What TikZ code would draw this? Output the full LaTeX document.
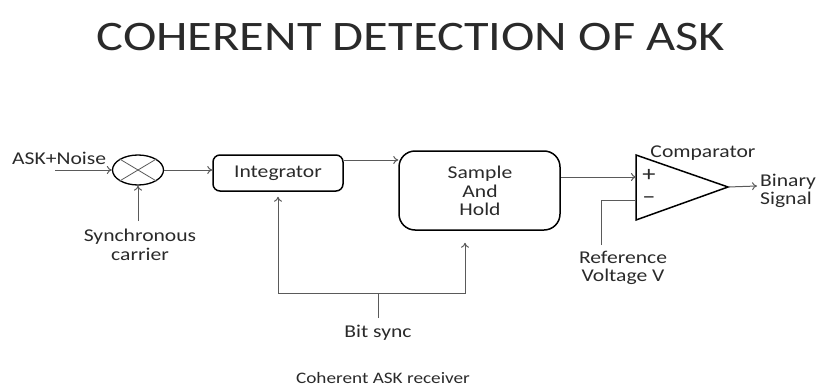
\documentclass[tikz,border=0pt]{standalone}
\usepackage{fontspec}
\setmainfont{Carlito}[FakeStretch=1.2]
\usetikzlibrary{arrows.meta,shapes.geometric,positioning}
\definecolor{wiregray}{HTML}{5A5A5A}
\definecolor{textgray}{HTML}{2A2A2A}

\tikzset{
  blockbox/.style={draw=black, line width=1.5pt, rounded corners=6pt, inner sep=0pt},
  wire/.style={draw=wiregray, line width=1pt},
  sig/.style={wire, -{To[length=5pt,width=8pt]}},
  lbl/.style={text=textgray, font=\fontsize{18}{18.5}\selectfont, align=center, inner sep=0pt}
}

\begin{document}
\begin{tikzpicture}[x=1pt,y=-1pt]
  \useasboundingbox (0,0) rectangle (816,388);

  % title
  \node[text=textgray, font=\fontsize{42}{46}\selectfont, inner sep=0pt] (title) at (411,37) {COHERENT DETECTION OF ASK};

  % input and mixer
  \node[lbl, anchor=west] (askin) at (12,158) {ASK+Noise};
  \coordinate (askstart) at (55,170);
  \node[draw=black, line width=1.3pt, ellipse, minimum width=51, minimum height=30, inner sep=0pt] (mix) at (138,170) {};
  \draw[wire, line width=0.8pt] (mix.north west) -- (mix.south east) (mix.north east) -- (mix.south west);
  \node[lbl] (carrier) at (140,245) {Synchronous\\carrier};
  \coordinate (carrierend) at (138,221);

  % blocks
  \node[blockbox, minimum width=130, minimum height=36, rounded corners=7pt] (integ) at (278,173) {};
  \node[lbl] at (integ) {Integrator};
  \node[blockbox, minimum width=161, minimum height=79, rounded corners=16pt] (sh) at (479.5,190.5) {};
  \node[lbl] (shtext) at (480,191) {Sample\\And\\Hold};

  % comparator
  \coordinate (cmptop) at (636,155);
  \coordinate (cmpbot) at (636,220);
  \coordinate (cmpout) at (728,187);
  \draw[black, line width=1.5pt, line join=miter] (cmptop) -- (cmpout) -- (cmpbot) -- cycle;
  \node[lbl, font=\fontsize{22}{22}\selectfont] (plus) at (649,175) {+};
  \node[lbl, font=\fontsize{22}{22}\selectfont] (minus) at (649,200) {\textendash};
  \node[lbl] (cmpname) at (703,153) {Comparator};
  \node[lbl, align=left, anchor=west] (binout) at (760,191) {Binary\\Signal};
  \node[lbl] (refv) at (623,268) {Reference\\Voltage V};
  \coordinate (refend) at (601,245);
  \coordinate (binend) at (757,186);

  % bit sync
  \node[lbl] (bitsync) at (378,333) {Bit sync};
  \coordinate (syncend) at (378,318);
  \coordinate (syncbus) at (378,293);

  % caption
  \node[lbl, font=\fontsize{16}{17}\selectfont] (caption) at (383,378) {Coherent ASK receiver};

  % connector end points
  \coordinate (integout) at ([yshift=13pt]integ.east);
  \coordinate (integsync) at ([yshift=-5pt]integ.south);
  \coordinate (shsync) at ([yshift=-12pt]sh.south -| 465,0);
  \coordinate (shout) at (sh.east |- 0,177);

  % connectors
  \draw[sig] (askstart) -- (mix.west);
  \draw[sig] (carrierend) -- (mix.south);
  \draw[sig] (mix.east) -- (integ.west |- mix.east);
  \draw[sig] (integout) -- (sh.west |- integout);
  \draw[sig] (shout) -- (cmptop |- shout);
  \draw[wire] (refend) |- (cmptop |- minus);
  \draw[sig] (cmpout) -- (binend);
  \draw[wire] (syncend) -- (syncbus);
  \draw[sig] (syncbus) -| (integsync);
  \draw[sig] (syncbus) -| (shsync);
\end{tikzpicture}
\end{document}
